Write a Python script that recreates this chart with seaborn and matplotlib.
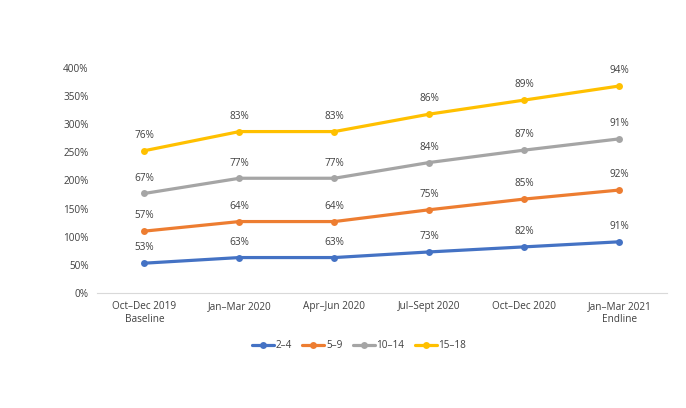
import numpy as np
import pandas as pd
import matplotlib
matplotlib.use("Agg")
import matplotlib.pyplot as plt
import seaborn as sns
from matplotlib.ticker import FuncFormatter

# Data (percent, stacked in the original chart)
periods = ["Oct–Dec 2019\nBaseline", "Jan–Mar 2020", "Apr–Jun 2020",
           "Jul–Sept 2020", "Oct–Dec 2020", "Jan–Mar 2021\nEndline"]
groups = ["2–4", "5–9", "10–14", "15–18"]
age_2_4 = [53, 63, 63, 73, 82, 91]
age_5_9 = [57, 64, 64, 75, 85, 92]
age_10_14 = [67, 77, 77, 84, 87, 91]
age_15_18 = [76, 83, 83, 86, 89, 94]
colors = ["#4472C4", "#ED7D31", "#A5A5A5", "#FFC000"]

values = np.array([age_2_4, age_5_9, age_10_14, age_15_18])
stacked = np.cumsum(values, axis=0)

rows = []
for g, raw, cum in zip(groups, values, stacked):
    for i, (r, c) in enumerate(zip(raw, cum)):
        rows.append({"group": g, "x": i, "label": r, "y": c})
df = pd.DataFrame(rows)

sns.set_style("white")
plt.rcParams["font.family"] = ["Open Sans", "DejaVu Sans"]

fig = plt.figure(figsize=(6.86, 4.08), dpi=100)
ax = fig.add_axes([0.1414, 0.2819, 0.8305, 0.5514])

sns.lineplot(data=df, x="x", y="y", hue="group", hue_order=groups,
             palette=colors, marker="o", markersize=5, markeredgewidth=0,
             linewidth=2.3, ax=ax, legend=True)

for _, r in df.iterrows():
    ax.annotate(f"{r['label']}%", (r["x"], r["y"]), xytext=(0, 7),
                textcoords="offset points", ha="center", va="bottom",
                fontsize=7.2, color="#404040")

ax.set_xlim(-0.5, len(periods) - 0.5)
ax.set_ylim(0, 400)
ax.set_yticks(range(0, 401, 50))
ax.yaxis.set_major_formatter(FuncFormatter(lambda v, p: f"{int(v)}%"))
ax.set_xticks(range(len(periods)))
ax.set_xticklabels(periods)
ax.tick_params(axis="both", labelsize=7.2, colors="#404040", length=0, pad=6)
ax.set_xlabel("")
ax.set_ylabel("")
for s in ["top", "right", "left"]:
    ax.spines[s].set_visible(False)
ax.spines["bottom"].set_color("#D9D9D9")
ax.spines["bottom"].set_linewidth(0.8)

handles, labels = ax.get_legend_handles_labels()
ax.legend(handles, labels, loc="upper center", bbox_to_anchor=(0.46, -0.17),
          ncol=4, frameon=False, fontsize=7.2, handlelength=2.2,
          handletextpad=0.2, columnspacing=1.0, labelcolor="#404040")

fig.savefig("out.png", dpi=100)
